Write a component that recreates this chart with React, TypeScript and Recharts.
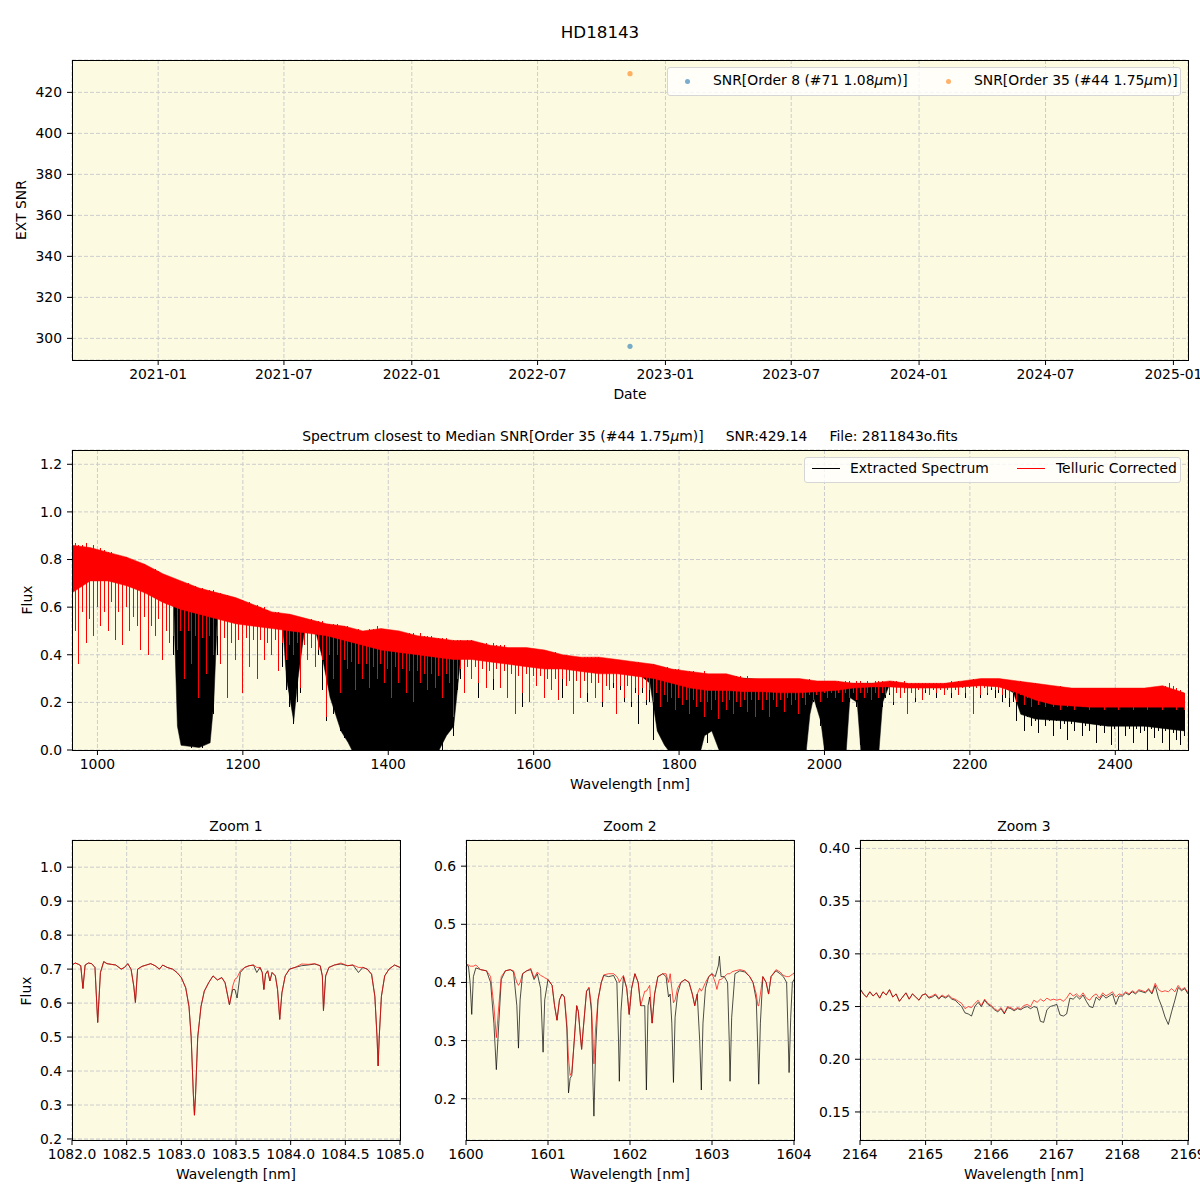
import React from 'react';
import {
  ScatterChart, Scatter, ComposedChart, Area, Bar, LineChart, Line,
  XAxis, YAxis, CartesianGrid,
} from 'recharts';

const FONT = '"DejaVu Sans", Verdana, sans-serif';
const PANEL_BG = '#fcfbe2';
const GRID = '#cccccc';

// ---- SNR history (top panel)
const obsDates = ['2022-11-11'];
const snrOrder8 = [296.1];
const snrOrder35 = [429.14];
const dateTicks = ['2021-01', '2021-07', '2022-01', '2022-07', '2023-01', '2023-07', '2024-01', '2024-07', '2025-01'];
const snrTicks = [300, 320, 340, 360, 380, 400, 420];

// ---- full spectrum, one sample every 5 nm starting at 965 nm (flux x100)
const specStart = 965;
const specStep = 5;
const tcTop = [
  86, 87, 86, 86, 87, 85, 86, 84, 85, 84,
  83, 83, 82, 82, 81, 81, 80, 80, 79, 78,
  78, 77, 76, 76, 75, 74, 73, 72, 72, 71,
  71, 70, 70, 69, 69, 68, 68, 67, 67, 67,
  66, 66, 65, 65, 64, 64, 63, 63, 62, 62,
  61, 61, 60, 60, 59, 58, 58, 58, 57, 57,
  57, 56, 56, 56, 55, 55, 55, 54, 54, 54,
  53, 53, 53, 53, 52, 52, 52, 51, 50, 51,
  50, 50, 51, 51, 52, 51, 51, 50, 50, 50,
  50, 49, 49, 49, 49, 48, 49, 48, 48, 48,
  47, 47, 47, 47, 46, 46, 46, 46, 45, 46,
  46, 45, 45, 45, 45, 44, 45, 44, 44, 44,
  43, 43, 43, 43, 43, 43, 42, 42, 42, 42,
  42, 41, 41, 41, 40, 40, 40, 39, 39, 39,
  39, 39, 39, 39, 39, 39, 38, 38, 38, 38,
  38, 38, 37, 37, 37, 37, 37, 36, 36, 36,
  36, 35, 35, 35, 35, 34, 34, 34, 33, 33,
  33, 33, 32, 32, 33, 32, 32, 32, 32, 31,
  32, 31, 31, 31, 31, 30, 31, 30, 30, 30,
  30, 30, 30, 29, 30, 30, 29, 30, 29, 29,
  30, 29, 29, 30, 29, 29, 29, 29, 29, 28,
  29, 29, 28, 29, 29, 28, 29, 29, 28, 29,
  28, 29, 29, 29, 28, 29, 29, 29, 28, 29,
  28, 28, 28, 28, 28, 28, 28, 28, 28, 28,
  28, 28, 29, 28, 29, 29, 29, 29, 30, 29,
  30, 30, 30, 30, 30, 30, 29, 29, 29, 29,
  29, 29, 28, 28, 28, 28, 27, 27, 27, 27,
  27, 26, 27, 26, 26, 26, 26, 26, 26, 26,
  26, 26, 26, 26, 26, 26, 26, 26, 26, 26,
  26, 26, 26, 26, 26, 26, 26, 26, 26, 26,
  27, 27, 28, 27, 26, 25, 24,
];
// deepest point of the telluric-corrected line in each 5 nm sample (x100)
const tcLow = [
  38, 50, 36, 58, 45, 55, 48, 60, 52, 58,
  50, 62, 46, 58, 44, 60, 50, 56, 52, 42,
  56, 40, 52, 48, 55, 38, 50, 45, 48, 42,
  50, 30, 50, 36, 48, 22, 47, 32, 48, 40,
  48, 36, 47, 22, 45, 38, 46, 24, 47, 35,
  46, 30, 46, 38, 45, 40, 46, 33, 45, 38,
  44, 40, 45, 26, 44, 38, 43, 35, 42, 38,
  14, 40, 30, 40, 24, 38, 34, 37, 25, 36,
  30, 36, 26, 35, 30, 36, 28, 34, 22, 35,
  28, 34, 24, 33, 20, 33, 28, 32, 25, 32,
  26, 31, 22, 32, 28, 14, 30, 34, 24, 35,
  30, 35, 28, 34, 26, 33, 30, 34, 26, 33,
  22, 32, 15, 31, 24, 32, 20, 31, 27, 31,
  22, 30, 25, 30, 21, 30, 27, 29, 15, 29,
  22, 29, 24, 28, 22, 28, 20, 27, 25, 28,
  15, 27, 22, 27, 20, 26, 23, 26, 21, 25,
  20, 24, 18, 23, 20, 22, 17, 22, 19, 21,
  15, 21, 18, 20, 14, 20, 17, 21, 13, 20,
  17, 21, 15, 20, 18, 21, 16, 21, 14, 21,
  17, 21, 14, 21, 18, 21, 16, 22, 19, 21,
  15, 22, 19, 23, 21, 23, 20, 24, 22, 24,
  22, 24, 20, 24, 22, 24, 21, 24, 22, 24,
  21, 24, 22, 24, 23, 24, 20, 24, 22, 24,
  15, 24, 22, 25, 21, 25, 23, 25, 24, 25,
  23, 25, 24, 25, 23, 26, 24, 26, 15, 26,
  23, 26, 24, 26, 25, 25, 23, 25, 22, 24,
  20, 23, 19, 22, 18, 21, 19, 20, 18, 20,
  18, 20, 17, 20, 18, 19, 17, 19, 18, 19,
  17, 19, 18, 19, 17, 19, 18, 19, 17, 19,
  18, 19, 17, 19, 18, 19, 17, 19, 18, 19,
  17, 19, 18, 19, 17, 18, 17,
];
// deepest point of the extracted line in each 5 nm sample (x100)
const extLow = [
  33, 50, 36, 58, 45, 55, 48, 60, 52, 58,
  50, 62, 46, 58, 44, 60, 50, 56, 52, 42,
  56, 40, 52, 48, 55, 38, 50, 45, 40, 30,
  5, 2, 3, 1, 4, 2, 1, 3, 5, 15,
  40, 36, 47, 22, 45, 38, 46, 24, 47, 35,
  46, 30, 46, 38, 45, 40, 46, 33, 35, 25,
  18, 11, 20, 24, 44, 38, 43, 35, 40, 25,
  12, 25, 15, 18, 8, 5, 4, 1, 0, 0,
  0, 0, 0, 0, 0, 0, 0, 0, 0, 0,
  0, 0, 0, 0, 0, 0, 0, 0, 0, 0,
  2, 5, 0, 8, 12, 6, 25, 30, 24, 35,
  30, 35, 22, 34, 26, 33, 25, 34, 26, 33,
  22, 32, 15, 31, 18, 32, 20, 31, 27, 31,
  22, 30, 25, 30, 21, 22, 27, 29, 15, 29,
  22, 29, 20, 28, 22, 28, 18, 27, 25, 26,
  15, 25, 20, 27, 18, 24, 11, 24, 19, 20,
  4, 20, 12, 5, 1, 0, 0, 1, 0, 0,
  0, 2, 0, 4, 8, 3, 10, 5, 1, 0,
  0, 0, 0, 1, 0, 0, 0, 2, 0, 0,
  0, 1, 0, 0, 0, 2, 0, 0, 0, 0,
  0, 1, 2, 15, 20, 18, 10, 0, 0, 0,
  0, 0, 0, 3, 20, 22, 18, 2, 0, 0,
  0, 0, 2, 18, 22, 23, 19, 24, 22, 24,
  15, 24, 20, 25, 21, 24, 23, 25, 22, 25,
  23, 25, 22, 25, 23, 26, 22, 26, 15, 26,
  22, 26, 23, 25, 22, 24, 20, 22, 18, 20,
  12, 16, 8, 14, 10, 12, 7, 14, 10, 12,
  6, 12, 9, 11, 4, 11, 8, 12, 6, 10,
  8, 11, 3, 10, 7, 10, 2, 9, 0, 10,
  6, 9, 3, 9, 7, 8, 0, 9, 5, 8,
  3, 8, 0, 7, 4, 2, 6,
];
// lower edge of the solid (dense) part of each curve
const tcCoreWl = [
  965, 990, 1015, 1040, 1065, 1090, 1115, 1140, 1165, 1190,
  1215, 1240, 1265, 1290, 1315, 1340, 1365, 1390, 1415, 1440,
  1465, 1490, 1515, 1540, 1565, 1590, 1615, 1640, 1665, 1690,
  1715, 1740, 1765, 1790, 1815, 1840, 1865, 1890, 1915, 1940,
  1965, 1990, 2015, 2040, 2065, 2090, 2115, 2140, 2165, 2190,
  2215, 2240, 2265, 2290, 2315, 2340, 2365, 2390, 2415, 2440,
  2465, 2495,
];
const tcCore = [
  0.66, 0.71, 0.71, 0.69, 0.66, 0.62, 0.59, 0.57, 0.55, 0.53,
  0.52, 0.51, 0.50, 0.49, 0.48, 0.46, 0.44, 0.42, 0.41, 0.40,
  0.39, 0.38, 0.38, 0.37, 0.36, 0.35, 0.34, 0.34, 0.33, 0.32,
  0.32, 0.31, 0.30, 0.28, 0.26, 0.25, 0.25, 0.245, 0.245, 0.24,
  0.24, 0.245, 0.25, 0.26, 0.265, 0.265, 0.26, 0.26, 0.26, 0.265,
  0.27, 0.265, 0.24, 0.21, 0.19, 0.185, 0.18, 0.18, 0.18, 0.18,
  0.18, 0.18,
];
const extCoreWl = [
  965, 990, 1015, 1040, 1065, 1090, 1105, 1110, 1115, 1140,
  1155, 1160, 1165, 1190, 1215, 1240, 1255, 1260, 1270, 1275,
  1285, 1300, 1310, 1320, 1335, 1345, 1350, 1470, 1480, 1490,
  1495, 1500, 1540, 1590, 1640, 1690, 1740, 1760, 1770, 1780,
  1785, 1830, 1835, 1845, 1855, 1975, 1980, 1985, 1995, 2000,
  2030, 2035, 2045, 2050, 2075, 2080, 2090, 2140, 2190, 2240,
  2260, 2270, 2290, 2340, 2390, 2440, 2495,
];
const extCore = [
  0.70, 0.74, 0.74, 0.72, 0.69, 0.65, 0.60, 0.10, 0.02, 0.01,
  0.03, 0.20, 0.57, 0.55, 0.54, 0.53, 0.52, 0.30, 0.12, 0.28,
  0.51, 0.50, 0.38, 0.22, 0.08, 0.03, 0.0, 0.0, 0.06, 0.10,
  0.25, 0.40, 0.39, 0.37, 0.36, 0.34, 0.33, 0.28, 0.08, 0.02,
  0.0, 0.0, 0.06, 0.08, 0.0, 0.0, 0.15, 0.22, 0.12, 0.0,
  0.0, 0.22, 0.20, 0.0, 0.0, 0.20, 0.28, 0.27, 0.275, 0.275,
  0.24, 0.15, 0.13, 0.12, 0.10, 0.10, 0.08,
];
const specXTicks = [1000, 1200, 1400, 1600, 1800, 2000, 2200, 2400];
const specYTicks = [0, 0.2, 0.4, 0.6, 0.8, 1.0, 1.2];

// ---- Zoom 1 (He I 1083 region)
const z1Wl = [
  1082.00, 1082.03, 1082.06, 1082.08, 1082.10, 1082.12, 1082.15, 1082.18, 1082.21, 1082.235,
  1082.26, 1082.29, 1082.32, 1082.36, 1082.40, 1082.45, 1082.48, 1082.51, 1082.54, 1082.565,
  1082.58, 1082.60, 1082.64, 1082.68, 1082.72, 1082.76, 1082.80, 1082.83, 1082.87, 1082.92,
  1082.96, 1083.00, 1083.04, 1083.07, 1083.09, 1083.11, 1083.12, 1083.13, 1083.15, 1083.18,
  1083.21, 1083.25, 1083.29, 1083.33, 1083.37, 1083.40, 1083.425, 1083.44, 1083.47, 1083.49,
  1083.51, 1083.54, 1083.58, 1083.62, 1083.66, 1083.69, 1083.72, 1083.74, 1083.755, 1083.77,
  1083.79, 1083.81, 1083.83, 1083.86, 1083.88, 1083.90, 1083.92, 1083.95, 1083.99, 1084.04,
  1084.10, 1084.16, 1084.22, 1084.27, 1084.29, 1084.30, 1084.32, 1084.35, 1084.40, 1084.46,
  1084.52, 1084.57, 1084.62, 1084.66, 1084.70, 1084.74, 1084.77, 1084.79, 1084.80, 1084.81,
  1084.83, 1084.86, 1084.90, 1084.95, 1085.00,
];
const z1Ext = [
  0.712, 0.718, 0.714, 0.71, 0.643, 0.712, 0.718, 0.716, 0.705, 0.543,
  0.69, 0.722, 0.716, 0.714, 0.712, 0.70, 0.705, 0.716, 0.70, 0.65,
  0.602, 0.70, 0.708, 0.712, 0.716, 0.71, 0.70, 0.712, 0.705, 0.70,
  0.69, 0.675, 0.645, 0.59, 0.50, 0.33, 0.27, 0.33, 0.50, 0.59,
  0.635, 0.66, 0.68, 0.668, 0.675, 0.66, 0.62, 0.595, 0.64, 0.64,
  0.615, 0.69, 0.705, 0.71, 0.712, 0.69, 0.705, 0.69, 0.64, 0.685,
  0.695, 0.665, 0.69, 0.68, 0.64, 0.552, 0.63, 0.68, 0.70, 0.705,
  0.71, 0.712, 0.715, 0.71, 0.68, 0.578, 0.68, 0.705, 0.712, 0.715,
  0.71, 0.712, 0.69, 0.705, 0.70, 0.685, 0.62, 0.50, 0.415, 0.50,
  0.62, 0.68, 0.70, 0.712, 0.705,
];
const z1Tc = [
  0.712, 0.718, 0.714, 0.71, 0.643, 0.712, 0.718, 0.716, 0.705, 0.543,
  0.69, 0.722, 0.716, 0.714, 0.712, 0.70, 0.705, 0.716, 0.70, 0.65,
  0.602, 0.70, 0.708, 0.712, 0.716, 0.71, 0.70, 0.712, 0.705, 0.70,
  0.69, 0.675, 0.645, 0.59, 0.50, 0.33, 0.27, 0.33, 0.50, 0.59,
  0.635, 0.66, 0.68, 0.668, 0.675, 0.66, 0.62, 0.595, 0.65, 0.67,
  0.675, 0.695, 0.705, 0.71, 0.712, 0.705, 0.705, 0.69, 0.64, 0.685,
  0.695, 0.665, 0.69, 0.68, 0.64, 0.552, 0.63, 0.68, 0.70, 0.705,
  0.715, 0.714, 0.716, 0.71, 0.68, 0.578, 0.68, 0.705, 0.712, 0.718,
  0.71, 0.712, 0.705, 0.705, 0.70, 0.685, 0.62, 0.50, 0.415, 0.50,
  0.62, 0.68, 0.70, 0.712, 0.705,
];
const z1XTicks = [1082, 1082.5, 1083, 1083.5, 1084, 1084.5, 1085];
const z1YTicks = [0.2, 0.3, 0.4, 0.5, 0.6, 0.7, 0.8, 0.9, 1.0];

// ---- Zoom 2 (H band)
const z2Wl = [
  1600.00, 1600.03, 1600.05, 1600.07, 1600.09, 1600.12, 1600.18, 1600.25, 1600.30, 1600.34,
  1600.37, 1600.40, 1600.43, 1600.48, 1600.54, 1600.58, 1600.62, 1600.64, 1600.66, 1600.69,
  1600.74, 1600.79, 1600.83, 1600.87, 1600.91, 1600.94, 1600.96, 1601.00, 1601.05, 1601.08,
  1601.11, 1601.14, 1601.17, 1601.20, 1601.23, 1601.25, 1601.27, 1601.29, 1601.32, 1601.35,
  1601.37, 1601.40, 1601.41, 1601.43, 1601.47, 1601.50, 1601.53, 1601.55, 1601.56, 1601.58,
  1601.61, 1601.65, 1601.68, 1601.74, 1601.80, 1601.84, 1601.86, 1601.87, 1601.89, 1601.92,
  1601.96, 1601.99, 1602.02, 1602.06, 1602.10, 1602.13, 1602.15, 1602.18, 1602.20, 1602.22,
  1602.24, 1602.27, 1602.30, 1602.34, 1602.40, 1602.44, 1602.47, 1602.49, 1602.51, 1602.53,
  1602.55, 1602.58, 1602.62, 1602.67, 1602.72, 1602.76, 1602.79, 1602.82, 1602.85, 1602.87,
  1602.89, 1602.92, 1602.96, 1603.00, 1603.04, 1603.06, 1603.08, 1603.09, 1603.11, 1603.15,
  1603.19, 1603.21, 1603.22, 1603.24, 1603.28, 1603.34, 1603.40, 1603.46, 1603.50, 1603.54,
  1603.56, 1603.57, 1603.59, 1603.62, 1603.66, 1603.69, 1603.72, 1603.78, 1603.83, 1603.87,
  1603.91, 1603.93, 1603.94, 1603.96, 1603.98, 1604.00,
];
const z2Ext = [
  0.430, 0.428, 0.40, 0.345, 0.41, 0.425, 0.422, 0.42, 0.40, 0.33,
  0.25, 0.33, 0.405, 0.42, 0.422, 0.418, 0.36, 0.287, 0.37, 0.415,
  0.42, 0.422, 0.405, 0.415, 0.39, 0.28, 0.37, 0.405, 0.395, 0.36,
  0.335, 0.37, 0.38, 0.375, 0.32, 0.21, 0.235, 0.24, 0.30, 0.36,
  0.35, 0.30, 0.285, 0.32, 0.385, 0.39, 0.35, 0.22, 0.17, 0.28,
  0.37, 0.40, 0.412, 0.41, 0.412, 0.40, 0.30, 0.23, 0.35, 0.41,
  0.39, 0.345, 0.39, 0.415, 0.40, 0.36, 0.36, 0.36, 0.215, 0.36,
  0.375, 0.33, 0.38, 0.41, 0.415, 0.41, 0.375, 0.38, 0.33, 0.228,
  0.34, 0.38, 0.40, 0.405, 0.40, 0.38, 0.36, 0.38, 0.30, 0.215,
  0.33, 0.39, 0.41, 0.415, 0.41, 0.42, 0.43, 0.445, 0.41, 0.41,
  0.40, 0.30, 0.23, 0.34, 0.415, 0.42, 0.418, 0.41, 0.40, 0.37,
  0.28, 0.225, 0.33, 0.41, 0.40, 0.38, 0.41, 0.42, 0.415, 0.41,
  0.40, 0.30, 0.245, 0.34, 0.40, 0.405,
];
const z2Tc = [
  0.432, 0.430, 0.428, 0.428, 0.428, 0.430, 0.422, 0.42, 0.41, 0.36,
  0.305, 0.36, 0.41, 0.42, 0.422, 0.42, 0.40, 0.395, 0.40, 0.415,
  0.42, 0.424, 0.408, 0.418, 0.412, 0.41, 0.408, 0.405, 0.395, 0.36,
  0.335, 0.37, 0.38, 0.375, 0.33, 0.27, 0.24, 0.245, 0.30, 0.36,
  0.35, 0.30, 0.285, 0.32, 0.385, 0.392, 0.36, 0.30, 0.26, 0.32,
  0.37, 0.40, 0.413, 0.415, 0.415, 0.41, 0.405, 0.40, 0.405, 0.412,
  0.39, 0.345, 0.39, 0.415, 0.40, 0.36, 0.37, 0.385, 0.385, 0.39,
  0.395, 0.33, 0.38, 0.41, 0.415, 0.415, 0.40, 0.415, 0.39, 0.365,
  0.37, 0.39, 0.40, 0.405, 0.40, 0.38, 0.36, 0.38, 0.39, 0.385,
  0.39, 0.40, 0.41, 0.415, 0.40, 0.388, 0.40, 0.405, 0.405, 0.41,
  0.415, 0.415, 0.415, 0.418, 0.42, 0.422, 0.42, 0.41, 0.40, 0.38,
  0.36, 0.36, 0.38, 0.41, 0.40, 0.38, 0.41, 0.422, 0.418, 0.412,
  0.41, 0.41, 0.41, 0.412, 0.414, 0.416,
];
const z2XTicks = [1600, 1601, 1602, 1603, 1604];
const z2YTicks = [0.2, 0.3, 0.4, 0.5, 0.6];

// ---- Zoom 3 (K band), one sample every 0.05 nm from 2164 nm (flux x1000)
const z3Start = 2164;
const z3Step = 0.05;
const z3Ext = [
  267, 262, 259, 264, 260, 263, 258, 264, 261, 266,
  259, 262, 255, 259, 263, 257, 262, 259, 256, 261,
  262, 258, 259, 261, 257, 260, 258, 260, 257, 256,
  253, 250, 244, 243, 241, 250, 254, 250, 256, 252,
  250, 247, 245, 248, 243, 249, 248, 246, 248, 247,
  249, 250, 248, 250, 249, 236, 235, 247, 250, 251,
  252, 242, 241, 243, 258, 257, 260, 257, 261, 255,
  250, 249, 259, 256, 261, 258, 260, 262, 252, 260,
  260, 263, 261, 264, 262, 265, 264, 263, 266, 262,
  270, 258, 250, 240, 233, 245, 256, 268, 265, 267,
  262,
];
const z3Tc = [
  267, 262, 259, 264, 260, 263, 258, 264, 261, 266,
  259, 262, 255, 259, 263, 257, 262, 259, 256, 261,
  262, 259, 260, 262, 258, 261, 259, 261, 258, 257,
  255, 253, 248, 250, 249, 253, 256, 251, 257, 253,
  251, 248, 246, 249, 244, 250, 249, 247, 249, 248,
  251, 252, 250, 256, 254, 257, 255, 258, 256, 257,
  256, 257, 255, 258, 263, 260, 262, 259, 263, 258,
  256, 260, 262, 258, 263, 260, 262, 264, 259, 262,
  261, 264, 262, 265, 263, 266, 265, 264, 267, 263,
  272, 266, 264, 265, 264, 267, 264, 270, 266, 268,
  263,
];
const z3XTicks = [2164, 2165, 2166, 2167, 2168, 2169];
const z3YTicks = [0.15, 0.2, 0.25, 0.3, 0.35, 0.4];

// ---- derived tables
const toTime = (s: string) => Date.parse(s.length === 7 ? `${s}-01T00:00:00Z` : `${s}T00:00:00Z`);
const order8Data = obsDates.map((d, i) => ({ t: toTime(d), snr: snrOrder8[i] }));
const order35Data = obsDates.map((d, i) => ({ t: toTime(d), snr: snrOrder35[i] }));
const dateTickValues = dateTicks.map(toTime);
const fmtDate = (v: number) => new Date(v).toISOString().slice(0, 7);

const topAt = (wl: number) => tcTop[Math.min(tcTop.length - 1, Math.round((wl - specStart) / specStep))] / 100;
// black spikes only where the extracted line dips below the corrected one (elsewhere it is hidden)
const specData = tcTop.map((top, i) => ({
  wl: specStart + i * specStep,
  ext: extLow[i] < tcLow[i] ? [extLow[i] / 100, top / 100 - 0.005] : null,
  tc: [tcLow[i] / 100, top / 100],
}));
const tcBand = tcCoreWl.map((wl, i) => ({ wl, band: [tcCore[i], topAt(wl)] }));
const extBand = extCoreWl.map((wl, i) => ({ wl, band: [extCore[i], topAt(wl) - 0.01] }));
const z1Data = z1Wl.map((wl, i) => ({ wl, ext: z1Ext[i], tc: z1Tc[i] }));
const z2Data = z2Wl.map((wl, i) => ({ wl, ext: z2Ext[i], tc: z2Tc[i] }));
const z3Data = z3Ext.map((v, i) => ({ wl: z3Start + i * z3Step, ext: v / 1000, tc: z3Tc[i] / 1000 }));

const tickFont = { fill: '#000', fontSize: 13.9, fontFamily: FONT };
const axisCommon = {
  axisLine: false,
  tickLine: { stroke: '#000', strokeWidth: 1 },
  tickSize: 5,
  tick: tickFont,
  interval: 0 as const,
  allowDataOverflow: true,
};

const Txt = ({ x, y, size = 13.9, rotate = false, children }: any) => (
  <div
    style={{
      position: 'absolute', left: x, top: y, fontSize: size, lineHeight: 1,
      whiteSpace: 'pre', transform: `translate(-50%, -50%)${rotate ? ' rotate(-90deg)' : ''}`,
    }}
  >
    {children}
  </div>
);

const Frame = ({ x, y, w, h }: any) => (
  <div
    style={{
      position: 'absolute', left: x, top: y, width: w + 1, height: h + 1,
      border: '1px solid #000', boxSizing: 'border-box', pointerEvents: 'none',
    }}
  />
);

const Mu = () => <i>μ</i>;

const dot = (color: string) => (p: any) => (
  <circle cx={p.cx} cy={p.cy} r={2.6} fill={color} fillOpacity={0.6} />
);

// thin absorption spike, drawn pixel-crisp so the red one fully hides the black one
const spike = (color: string) => (p: any) => {
  if (p.height == null || p.width == null) return <g />;
  const y = p.height < 0 ? p.y + p.height : p.y;
  return (
    <rect x={p.x} y={y} width={Math.max(1, p.width)} height={Math.abs(p.height)}
      fill={color} shapeRendering="crispEdges" />
  );
};

const ZoomPanel = ({ left, width, yWidth, right, data, xDomain, xTicks, xFmt, yDomain, yTicks, yFmt }: any) => (
  <div style={{ position: 'absolute', left, top: 800 }}>
    <LineChart width={width} height={400} data={data} margin={{ top: 40, right, bottom: 0, left: 0 }}>
      <CartesianGrid fill={PANEL_BG} stroke={GRID} strokeDasharray="4 2" />
      <XAxis type="number" dataKey="wl" domain={xDomain} ticks={xTicks} tickFormatter={xFmt}
        height={60} tickMargin={4} {...axisCommon} />
      <YAxis type="number" domain={yDomain} ticks={yTicks} tickFormatter={yFmt}
        width={yWidth} tickMargin={5} {...axisCommon} />
      <Line dataKey="ext" stroke="#000" strokeWidth={0.7} dot={false} isAnimationActive={false} />
      <Line dataKey="tc" stroke="#ff0000" strokeWidth={0.7} dot={false} isAnimationActive={false} />
    </LineChart>
  </div>
);

export default function App() {
  return (
    <div style={{ position: 'relative', width: 1200, height: 1200, background: '#fff', fontFamily: FONT, color: '#000', overflow: 'hidden' }}>
      <style>{'body{margin:0}'}</style>

      <Txt x={600} y={32} size={16.7}>HD18143</Txt>

      {/* SNR history */}
      <div style={{ position: 'absolute', left: 0, top: 0 }}>
        <ScatterChart width={1200} height={420} margin={{ top: 60, right: 12, bottom: 0, left: 0 }}>
          <CartesianGrid fill={PANEL_BG} stroke={GRID} strokeDasharray="4 2" />
          <XAxis type="number" dataKey="t" domain={[toTime('2020-08-30'), toTime('2025-01-22')]}
            ticks={dateTickValues} tickFormatter={fmtDate} height={60} tickMargin={4} {...axisCommon} />
          <YAxis type="number" dataKey="snr" domain={[289.45, 435.79]} ticks={snrTicks}
            width={72} tickMargin={5} {...axisCommon} />
          <Scatter data={order8Data} shape={dot('#1f77b4')} isAnimationActive={false} />
          <Scatter data={order35Data} shape={dot('#ff7f0e')} isAnimationActive={false} />
        </ScatterChart>
      </div>
      <Frame x={72} y={60} w={1116} h={300} />
      <Txt x={22} y={210} rotate>EXT SNR</Txt>
      <Txt x={630} y={395}>Date</Txt>
      <div style={{
        position: 'absolute', left: 667, top: 67, width: 514, height: 29, boxSizing: 'border-box',
        border: '1px solid #d6d6d6', borderRadius: 3, background: 'rgba(255,255,255,0.8)', fontSize: 13.9,
      }}>
        <div style={{ position: 'absolute', left: 17, top: 11, width: 5, height: 5, borderRadius: 3, background: '#1f77b4', opacity: 0.6 }} />
        <div style={{ position: 'absolute', left: 45, top: 6, whiteSpace: 'pre', lineHeight: 1 }}>SNR[Order 8 (#71 1.08<Mu />m)]</div>
        <div style={{ position: 'absolute', left: 278, top: 11, width: 5, height: 5, borderRadius: 3, background: '#ff7f0e', opacity: 0.6 }} />
        <div style={{ position: 'absolute', left: 306, top: 6, whiteSpace: 'pre', lineHeight: 1 }}>SNR[Order 35 (#44 1.75<Mu />m)]</div>
      </div>

      {/* Full spectrum: extracted (black) underneath, telluric corrected (red) on top */}
      <Txt x={630} y={437} size={13.9}>Spectrum closest to Median SNR[Order 35 (#44 1.75<Mu />m)]     SNR:429.14     File: 2811843o.fits</Txt>
      <div style={{ position: 'absolute', left: 0, top: 400 }}>
        <ComposedChart width={1200} height={400} data={specData} margin={{ top: 50, right: 12, bottom: 0, left: 0 }}>
          <CartesianGrid fill={PANEL_BG} stroke={GRID} strokeDasharray="4 2" />
          <XAxis type="number" dataKey="wl" domain={[965, 2500]} ticks={specXTicks}
            height={50} tickMargin={4} {...axisCommon} />
          <YAxis type="number" domain={[0, 1.26]} ticks={specYTicks} tickFormatter={(v: number) => v.toFixed(1)}
            width={72} tickMargin={5} {...axisCommon} />
          <Area type="linear" data={extBand} dataKey="band" stroke="#000" strokeWidth={0.5} fill="#000" fillOpacity={1} isAnimationActive={false} />
          <Bar dataKey="ext" fill="#000" barSize={1} shape={spike('#000')} isAnimationActive={false} />
        </ComposedChart>
      </div>
      <div style={{ position: 'absolute', left: 0, top: 400 }}>
        <ComposedChart width={1200} height={400} data={specData} margin={{ top: 50, right: 12, bottom: 50, left: 72 }}>
          <XAxis type="number" dataKey="wl" domain={[965, 2500]} hide allowDataOverflow />
          <YAxis type="number" domain={[0, 1.26]} hide allowDataOverflow />
          <Area type="linear" data={tcBand} dataKey="band" stroke="#ff0000" strokeWidth={0.5} fill="#ff0000" fillOpacity={1} isAnimationActive={false} />
          <Bar dataKey="tc" fill="#ff0000" barSize={1} shape={spike('#ff0000')} isAnimationActive={false} />
        </ComposedChart>
      </div>
      <Frame x={72} y={450} w={1116} h={300} />
      <Txt x={28} y={600} rotate>Flux</Txt>
      <Txt x={630} y={785}>Wavelength [nm]</Txt>
      <div style={{
        position: 'absolute', left: 804, top: 457, width: 377, height: 26, boxSizing: 'border-box',
        border: '1px solid #d6d6d6', borderRadius: 3, background: 'rgba(255,255,255,0.8)', fontSize: 13.9,
      }}>
        <div style={{ position: 'absolute', left: 7, top: 10, width: 28, height: 1, background: '#000' }} />
        <div style={{ position: 'absolute', left: 45, top: 4, whiteSpace: 'pre', lineHeight: 1 }}>Extracted Spectrum</div>
        <div style={{ position: 'absolute', left: 212, top: 10, width: 28, height: 1, background: '#ff0000' }} />
        <div style={{ position: 'absolute', left: 251, top: 4, whiteSpace: 'pre', lineHeight: 1 }}>Telluric Corrected</div>
      </div>

      {/* Zoom panels */}
      <ZoomPanel left={0} width={440} yWidth={72} right={40} data={z1Data}
        xDomain={[1082, 1085]} xTicks={z1XTicks} xFmt={(v: number) => v.toFixed(1)}
        yDomain={[0.197, 1.08]} yTicks={z1YTicks} yFmt={(v: number) => v.toFixed(1)} />
      <ZoomPanel left={400} width={440} yWidth={66} right={46} data={z2Data}
        xDomain={[1600, 1604]} xTicks={z2XTicks} xFmt={(v: number) => String(v)}
        yDomain={[0.129, 0.645]} yTicks={z2YTicks} yFmt={(v: number) => v.toFixed(1)} />
      <ZoomPanel left={800} width={400} yWidth={60} right={12} data={z3Data}
        xDomain={[2164, 2169]} xTicks={z3XTicks} xFmt={(v: number) => String(v)}
        yDomain={[0.1234, 0.408]} yTicks={z3YTicks} yFmt={(v: number) => v.toFixed(2)} />
      <Frame x={72} y={840} w={328} h={300} />
      <Frame x={466} y={840} w={328} h={300} />
      <Frame x={860} y={840} w={328} h={300} />
      <Txt x={236} y={827}>Zoom 1</Txt>
      <Txt x={630} y={827}>Zoom 2</Txt>
      <Txt x={1024} y={827}>Zoom 3</Txt>
      <Txt x={27} y={991} rotate>Flux</Txt>
      <Txt x={236} y={1175}>Wavelength [nm]</Txt>
      <Txt x={630} y={1175}>Wavelength [nm]</Txt>
      <Txt x={1024} y={1175}>Wavelength [nm]</Txt>
    </div>
  );
}
